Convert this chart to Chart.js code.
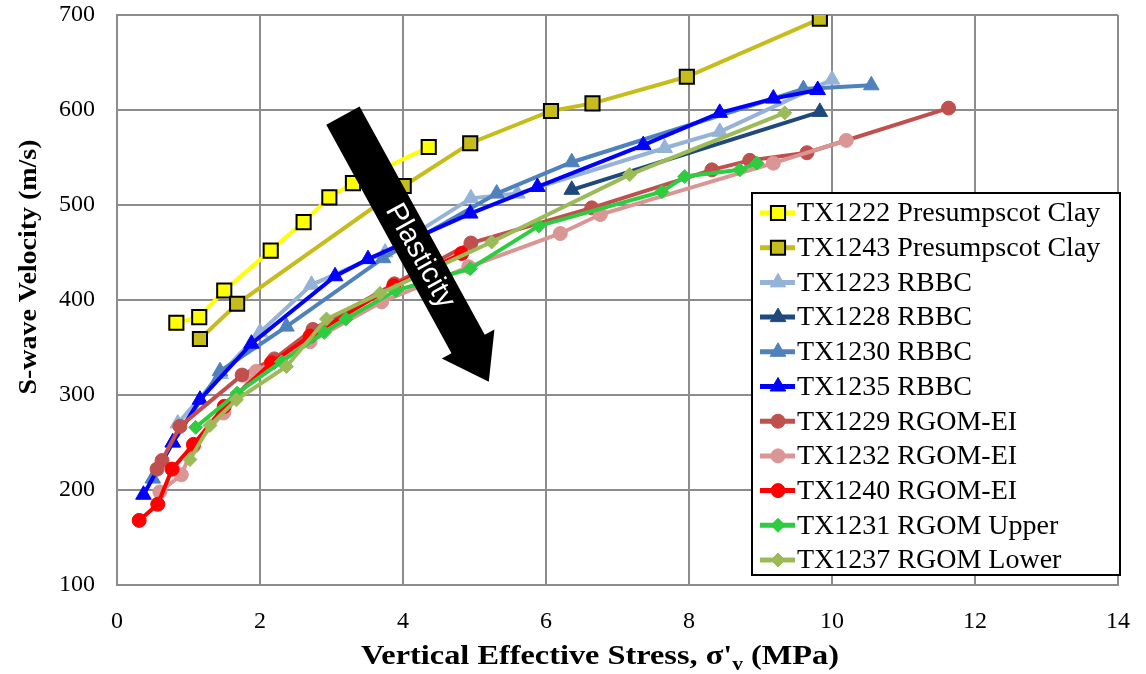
<!DOCTYPE html>
<html><head><meta charset="utf-8">
<script src="https://cdn.jsdelivr.net/npm/chart.js@4.4.0/dist/chart.umd.min.js"></script>
<style>html,body{margin:0;padding:0;background:#fff;overflow:hidden}</style>
</head><body>
<canvas id="c" width="1146" height="674" style="display:block;width:1146px;height:674px"></canvas>
<script>
// ---- data (x = vertical effective stress MPa, y = Vs m/s) ----
const xTicks = [0, 2, 4, 6, 8, 10, 12, 14];
const yTicks = [100, 200, 300, 400, 500, 600, 700];
const seriesNames = ["TX1222 Presumpscot Clay","TX1243 Presumpscot Clay","TX1223 RBBC","TX1228 RBBC","TX1230 RBBC","TX1235 RBBC","TX1229 RGOM-EI","TX1232 RGOM-EI","TX1240 RGOM-EI","TX1231 RGOM Upper","TX1237 RGOM Lower"];
const tx1222 = [[0.83,376],[1.15,382],[1.50,410],[2.15,452],[2.61,482],[2.97,508],[3.30,523],[4.36,561]];
const tx1243 = [[1.16,359],[1.68,396],[4.01,520],[4.94,565],[6.07,599],[6.65,607],[7.97,635],[9.83,696]];
const tx1223 = [[0.85,270],[1.45,322],[2.00,366],[2.72,416],[3.75,450],[4.95,507],[5.60,512],[7.66,560],[8.43,577],[10.00,632]];
const tx1228 = [[6.36,516],[9.83,598]];
const tx1230 = [[0.50,212],[0.78,250],[1.44,325],[2.37,372],[3.72,444],[5.31,512],[6.36,545],[9.60,622],[10.55,626]];
const tx1235 = [[0.37,195],[0.78,250],[1.16,295],[1.88,354],[3.05,425],[3.51,443],[4.94,491],[5.88,519],[7.36,563],[8.43,597],[9.18,612],[9.80,621]];
const tx1229 = [[0.56,222],[0.63,231],[0.88,267],[1.75,321],[2.20,338],[2.74,369],[3.88,417],[4.95,460],[6.64,497],[8.32,537],[8.85,547],[9.65,555],[11.63,602]];
const tx1232 = [[0.60,198],[0.90,216],[1.07,246],[1.49,281],[1.95,325],[2.70,356],[3.70,398],[4.92,435],[6.20,470],[6.76,490],[9.18,544],[10.20,568]];
const tx1240 = [[0.31,168],[0.57,185],[0.77,222],[1.07,248],[1.50,288],[2.16,334],[2.70,362],[3.87,415],[4.82,449]];
const tx1231 = [[1.10,266],[1.68,302],[2.30,335],[2.90,366],[3.20,380],[3.90,410],[4.94,433],[5.90,478],[7.62,514],[7.94,530],[8.71,537],[8.95,544]];
const tx1237 = [[1.02,232],[1.30,268],[1.67,295],[2.37,330],[2.93,380],[3.68,407],[5.24,461],[7.17,532],[9.34,597]];
// annotation arrow, in data units
const arrowFrom = [3.16, 594];
const arrowTo = [5.20, 314];
const arrowText = "Plasticity";
const xTitle = ["Vertical Effective Stress, \u03c3'", "v", " (MPa)"];
const yTitle = "S-wave Velocity (m/s)";

const allSeries = [tx1222, tx1243, tx1223, tx1228, tx1230, tx1235, tx1229, tx1232, tx1240, tx1231, tx1237];
const styles = [
  {c:'#FFFF00', ps:'rect', r:10, pb:'#FFFF00', pbc:'#000000', pbw:2},
  {c:'#C6BC1C', ps:'rect', r:10, pb:'#C6BC1C', pbc:'#000000', pbw:2},
  {c:'#95B3D7', ps:'triangle', r:9, pb:'#95B3D7', pbc:'#95B3D7', pbw:1},
  {c:'#1F497D', ps:'triangle', r:9, pb:'#1F497D', pbc:'#1F497D', pbw:1},
  {c:'#4F81BD', ps:'triangle', r:9, pb:'#4F81BD', pbc:'#4F81BD', pbw:1},
  {c:'#0000FF', ps:'triangle', r:9, pb:'#0000FF', pbc:'#0000FF', pbw:1},
  {c:'#C0504D', ps:'circle', r:7, pb:'#C0504D', pbc:'#C0504D', pbw:1},
  {c:'#D99694', ps:'circle', r:7, pb:'#D99694', pbc:'#D99694', pbw:1},
  {c:'#FF0000', ps:'circle', r:7, pb:'#FF0000', pbc:'#FF0000', pbw:1},
  {c:'#2ECC40', ps:'rectRot', r:7, pb:'#2ECC40', pbc:'#2ECC40', pbw:1},
  {c:'#9BBB59', ps:'rectRot', r:7, pb:'#9BBB59', pbc:'#9BBB59', pbw:1}
];

const datasets = allSeries.map((s, i) => ({
  label: seriesNames[i],
  data: s.map(p => ({x: p[0], y: p[1]})),
  borderColor: styles[i].c,
  backgroundColor: styles[i].c,
  borderWidth: 4,
  pointStyle: styles[i].ps,
  pointRadius: styles[i].r,
  pointBackgroundColor: styles[i].pb,
  pointBorderColor: styles[i].pbc,
  pointBorderWidth: styles[i].pbw,
  tension: 0,
  showLine: true,
  order: allSeries.length - i
}));

const SERIF = "'Liberation Serif', 'Times New Roman', serif";

const overlay = {
  id: 'overlay',
  afterDatasetsDraw(chart) {
    const ctx = chart.ctx;
    const xs = chart.scales.x, ys = chart.scales.y;
    // ---- arrow ----
    const p0 = {x: xs.getPixelForValue(arrowFrom[0]), y: ys.getPixelForValue(arrowFrom[1])};
    const p1 = {x: xs.getPixelForValue(arrowTo[0]), y: ys.getPixelForValue(arrowTo[1])};
    const dx = p1.x - p0.x, dy = p1.y - p0.y, L = Math.hypot(dx, dy);
    const ux = dx / L, uy = dy / L, nx = -uy, ny = ux;
    const sw = 19, hw = 30, hl = 43;
    const b = {x: p1.x - ux * hl, y: p1.y - uy * hl};
    ctx.save();
    ctx.fillStyle = '#000';
    ctx.beginPath();
    ctx.moveTo(p0.x + nx * sw, p0.y + ny * sw);
    ctx.lineTo(b.x + nx * sw, b.y + ny * sw);
    ctx.lineTo(b.x + nx * hw, b.y + ny * hw);
    ctx.lineTo(p1.x, p1.y);
    ctx.lineTo(b.x - nx * hw, b.y - ny * hw);
    ctx.lineTo(b.x - nx * sw, b.y - ny * sw);
    ctx.lineTo(p0.x - nx * sw, p0.y - ny * sw);
    ctx.closePath();
    ctx.fill();
    const tc = {x: p0.x + ux * 160, y: p0.y + uy * 160};
    ctx.translate(tc.x, tc.y);
    ctx.rotate(Math.atan2(dy, dx));
    ctx.fillStyle = '#fff';
    ctx.font = "29px 'Liberation Sans', Arial, sans-serif";
    ctx.textAlign = 'center';
    ctx.textBaseline = 'middle';
    ctx.fillText(arrowText, 0, 0);
    ctx.restore();

    // ---- legend ----
    ctx.save();
    const lx = 752, ly = 193, lw = 368, lh = 382;
    ctx.fillStyle = '#fff';
    ctx.fillRect(lx, ly, lw, lh);
    ctx.strokeStyle = '#000';
    ctx.lineWidth = 2;
    ctx.strokeRect(lx, ly, lw, lh);
    ctx.font = "28px " + SERIF;
    ctx.textBaseline = 'middle';
    ctx.textAlign = 'left';
    chart.data.datasets.forEach((ds, i) => {
      const y = ly + 20 + i * 34.7;
      ctx.strokeStyle = ds.borderColor;
      ctx.lineWidth = 5;
      ctx.beginPath();
      ctx.moveTo(760, y); ctx.lineTo(795, y); ctx.stroke();
      ctx.fillStyle = ds.pointBackgroundColor;
      ctx.strokeStyle = ds.pointBorderColor;
      ctx.lineWidth = ds.pointBorderWidth;
      Chart.helpers.drawPoint(ctx, {pointStyle: ds.pointStyle, radius: ds.pointRadius, rotation: 0, borderWidth: ds.pointBorderWidth}, 778, y);
      ctx.fillStyle = '#000';
      ctx.fillText(ds.label, 797, y + 1);
    });
    ctx.restore();

    // ---- axis titles ----
    ctx.save();
    ctx.fillStyle = '#000';
    const big = "bold 27px " + SERIF, small = "bold 18px " + SERIF;
    ctx.font = big; const w0 = ctx.measureText(xTitle[0]).width, w2 = ctx.measureText(xTitle[2]).width;
    ctx.font = small; const w1 = ctx.measureText(xTitle[1]).width;
    const tot = w0 + w1 + w2, target = 478, sx = target / tot;
    ctx.translate(600 - target / 2, 664);
    ctx.scale(sx, 1);
    ctx.textBaseline = 'alphabetic';
    ctx.textAlign = 'left';
    ctx.font = big; ctx.fillText(xTitle[0], 0, 0);
    ctx.font = small; ctx.fillText(xTitle[1], w0, 6);
    ctx.font = big; ctx.fillText(xTitle[2], w0 + w1, 0);
    ctx.restore();

    ctx.save();
    ctx.fillStyle = '#000';
    ctx.font = "bold 25px " + SERIF;
    const yw = ctx.measureText(yTitle).width, sy = 255 / yw;
    ctx.translate(36, 267);
    ctx.rotate(-Math.PI / 2);
    ctx.scale(sy, 1);
    ctx.textAlign = 'center';
    ctx.textBaseline = 'alphabetic';
    ctx.fillText(yTitle, 0, 0);
    ctx.restore();
  }
};

function noPad(s) { s.paddingTop = 0; s.paddingBottom = 0; s.paddingLeft = 0; s.paddingRight = 0; }

new Chart(document.getElementById('c'), {
  type: 'scatter',
  data: {datasets},
  options: {
    responsive: false,
    animation: false,
    devicePixelRatio: 1,
    layout: {padding: {left: 0, right: 28, top: 15, bottom: 0}},
    plugins: {legend: {display: false}, tooltip: {enabled: false}},
    scales: {
      x: {
        type: 'linear', min: 0, max: 14,
        afterBuildTicks: (s) => { s.ticks = xTicks.map(v => ({value: v})); },
        afterFit: (s) => { s.height = 89; noPad(s); },
        grid: {color: '#8c8c8c', lineWidth: 2, drawTicks: false},
        border: {color: '#8c8c8c', width: 2},
        ticks: {font: {family: SERIF, size: 24}, color: '#000', padding: 22, maxRotation: 0}
      },
      y: {
        type: 'linear', min: 100, max: 700,
        afterBuildTicks: (s) => { s.ticks = yTicks.map(v => ({value: v})); },
        afterFit: (s) => { s.width = 117; noPad(s); },
        grid: {color: '#8c8c8c', lineWidth: 2, drawTicks: false},
        border: {color: '#8c8c8c', width: 2},
        ticks: {font: {family: SERIF, size: 24}, color: '#000', padding: 22}
      }
    }
  },
  plugins: [overlay]
});
</script>
</body></html>
